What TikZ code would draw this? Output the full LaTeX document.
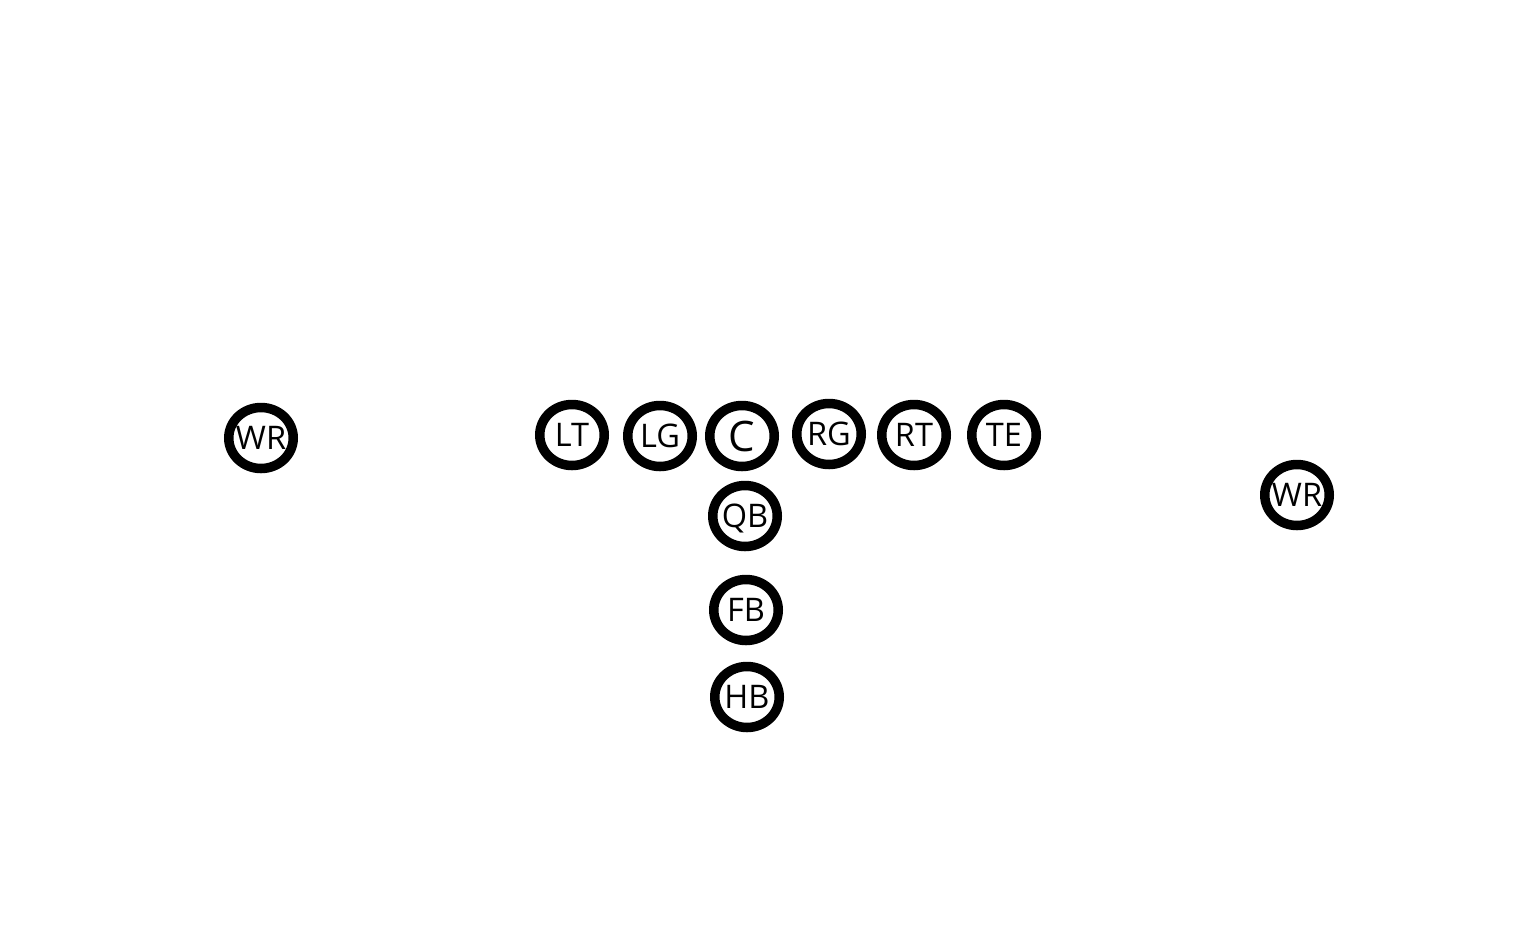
\documentclass[tikz,border=0pt]{standalone}
\usepackage{fontspec}
\setmainfont{Open Sans}
\usetikzlibrary{shapes.geometric}
\begin{document}
\begin{tikzpicture}[x=1pt,y=-1pt,
  player/.style={draw=black,line width=9.5pt,ellipse,minimum width=64.5pt,minimum height=61pt,inner sep=0pt,
    label={[inner sep=0pt,text height=23.2pt,text depth=0pt,font=\fontsize{32.5}{32.5}\selectfont]center:#1}},
  bigplayer/.style={player={},
    label={[inner sep=0pt,text height=30pt,text depth=0pt,font=\fontsize{42}{42}\selectfont]center:#1}}]
\useasboundingbox[fill=white] (0,0) rectangle (1524,948);
\node[player=WR] (wrl) at (261,438) {};
\node[player=LT] (lt) at (572,435) {};
\node[player=LG] (lg) at (660,436) {};
\node[bigplayer=C] (c) at (742,436) {};
\node[player=RG] (rg) at (829,434) {};
\node[player=RT] (rt) at (914,435) {};
\node[player=TE] (te) at (1004,435) {};
\node[player=QB] (qb) at (745,516) {};
\node[player=FB] (fb) at (746,610) {};
\node[player=HB] (hb) at (747,697) {};
\node[player=WR] (wrr) at (1297,495) {};
\end{tikzpicture}
\end{document}
